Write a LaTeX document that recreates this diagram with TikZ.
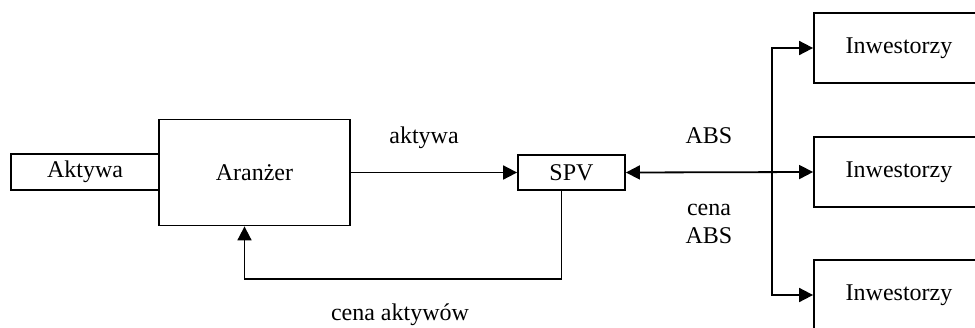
\documentclass[tikz,border=0pt]{standalone}
\usepackage{fontspec}
\setmainfont{Liberation Serif}
\usetikzlibrary{arrows.meta, positioning, calc}
\definecolor{lineblack}{HTML}{000000}

\begin{document}
\begin{tikzpicture}[x=0.5pt, y=-0.5pt, >={Triangle[length=7pt, width=7pt]},
    every node/.style={font=\fontsize{12}{14}\selectfont},
    box/.style={draw=lineblack, line width=0.9pt, inner sep=0pt},
    lbl/.style={anchor=base, inner sep=0pt, align=center},
    link/.style={line width=0.9pt, lineblack}]
        \useasboundingbox (0,0) rectangle (975,327);

        % boxes
        \node[box, minimum width=74pt, minimum height=18pt] (aktywa) at (85,172) {Aktywa};
        \node[box, minimum width=95.5pt, minimum height=53pt] (aranzer) at (254.5,172.5) {Aranżer};
        \node[box, minimum width=53.5pt, minimum height=17.5pt] (spv) at (571.5,172.5) {SPV};
        \foreach \name/\y in {inw1/48, inw2/172, inw3/295} {
          \node[box, minimum width=85pt, minimum height=35pt] (\name) at (899,\y) {Inwestorzy};
        }

        % connectors
        \draw[->, link] (aranzer.east) -- (spv.west);
        \draw[<->, link] (spv.east) -- (inw2.west);
        \coordinate (bus) at (772,172);
        \draw[->, link] (bus) |- (inw1.west);
        \draw[->, link] (bus) |- (inw3.west);
        \draw[->, link] ([xshift=-5pt]spv.south) -- ++(0,88) -| ([xshift=-5pt]aranzer.south);

        % labels
        \node[lbl] (lblaktywa) at (424,143) {aktywa};
        \node[lbl] (lblabs) at (709,143) {ABS};
        \node[lbl] (lblcena) at (709,243) {cena\\ABS};
        \node[lbl] (lblcenaakt) at (400,320) {cena aktywów};

      \end{tikzpicture}
\end{document}
